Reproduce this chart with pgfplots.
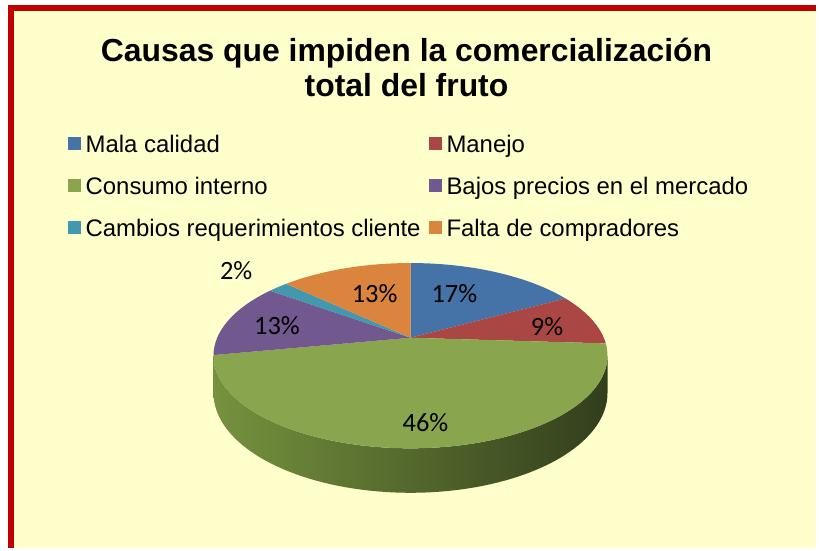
\documentclass[border=0pt]{standalone}
\usepackage{fontspec}
\setmainfont{Liberation Sans}
\newfontfamily\calib{Carlito}
\usepackage{pgfplots}
\usepackage{pgfplotstable}
\pgfplotsset{compat=1.18}

\definecolor{cBlue}{RGB}{69,114,167}
\definecolor{cRed}{RGB}{170,70,67}
\definecolor{cGreen}{RGB}{137,165,78}
\definecolor{cPurple}{RGB}{113,88,143}
\definecolor{cCyan}{RGB}{65,152,175}
\definecolor{cOrange}{RGB}{219,132,61}
\definecolor{sideL}{RGB}{118,146,62}
\definecolor{sideM}{RGB}{88,112,47}
\definecolor{sideR}{RGB}{50,62,28}
\definecolor{bgY}{RGB}{255,255,204}
\definecolor{frameR}{RGB}{192,0,0}

\pgfplotstableread{
id value
1 17
2 9
3 46
4 13
5 2
6 13
}\piedata

\pgfplotstablegetelem{0}{value}\of\piedata \let\vA\pgfplotsretval
\pgfplotstablegetelem{1}{value}\of\piedata \let\vB\pgfplotsretval
\pgfplotstablegetelem{2}{value}\of\piedata \let\vC\pgfplotsretval
\pgfplotstablegetelem{3}{value}\of\piedata \let\vD\pgfplotsretval
\pgfplotstablegetelem{4}{value}\of\piedata \let\vE\pgfplotsretval
\pgfplotstablegetelem{5}{value}\of\piedata \let\vF\pgfplotsretval
\pgfmathsetmacro\aA{0}
\pgfmathsetmacro\aB{\aA+3.6*\vA}
\pgfmathsetmacro\aC{\aB+3.6*\vB}
\pgfmathsetmacro\aD{\aC+3.6*\vC}
\pgfmathsetmacro\aE{\aD+3.6*\vD}
\pgfmathsetmacro\aF{\aE+3.6*\vE}
\pgfmathsetmacro\aG{\aF+3.6*\vF}

\begin{document}
\begin{tikzpicture}
\begin{axis}[
  scale only axis, width=819pt, height=550pt,
  xmin=0, xmax=819, ymin=0, ymax=550, y dir=reverse,
  hide axis, clip=false,
  declare function={
    px(\t)=412+194*sin(\t)/(1+0.1935*cos(\t));
    pyt(\t)=339-89.5*cos(\t)/(1+0.1935*cos(\t));
    pyb(\t)=339-89.5*cos(\t)/(1+0.1935*cos(\t))+36/(1+0.1935*cos(\t));
  },
  legend columns=2,
  legend cell align=left,
  legend image code/.code={\fill[#1] (0pt,-4pt) rectangle (13pt,9pt);},
  legend style={
    at={(axis cs:68,136)}, anchor=north west,
    draw=none, fill=none, inner sep=0pt, outer sep=0pt,
    font=\fontsize{24}{27}\selectfont,
    nodes={inner sep=0pt, outer sep=0pt, text height=17pt, text depth=5pt},
    row sep=20pt, column sep=0pt,
    /tikz/every odd column/.append style={column sep=5pt},
    /tikz/every even column/.append style={column sep=8pt},
  },
]
% background and frame
\fill[white] (axis cs:0,0) rectangle (axis cs:819,550);
\fill[bgY] (axis cs:11,8) rectangle (axis cs:819,550);
\draw[frameR, line width=6pt] (axis cs:11,550) -- (axis cs:11,8) -- (axis cs:819,8);

% side of the pie
\addplot[forget plot, draw=none, left color=sideL, middle color=sideM, right color=sideR,
  domain=0:2, samples=161]
  ({ifthenelse(x<=1, px(101.2+157.6*x), px(258.8-157.6*(x-1)))},
   {ifthenelse(x<=1, pyt(101.2+157.6*x), pyb(258.8-157.6*(x-1)))}) -- cycle;

% slices
\addplot[fill=cBlue, draw=none, domain=\aA:\aB, samples=40]
  ({px(x)},{pyt(x)}) -- (axis cs:412,339) -- cycle;
\addplot[fill=cRed, draw=none, domain=\aB:\aC, samples=40]
  ({px(x)},{pyt(x)}) -- (axis cs:412,339) -- cycle;
\addplot[fill=cGreen, draw=none, domain=\aC:\aD, samples=80]
  ({px(x)},{pyt(x)}) -- (axis cs:412,339) -- cycle;
\addplot[fill=cPurple, draw=none, domain=\aD:\aE, samples=40]
  ({px(x)},{pyt(x)}) -- (axis cs:412,339) -- cycle;
\addplot[fill=cCyan, draw=none, domain=\aE:\aF, samples=10]
  ({px(x)},{pyt(x)}) -- (axis cs:412,339) -- cycle;
\addplot[fill=cOrange, draw=none, domain=\aF:\aG, samples=40]
  ({px(x)},{pyt(x)}) -- (axis cs:412,339) -- cycle;

\legend{Mala calidad, Manejo, Consumo interno, Bajos precios en el mercado, Cambios requerimientos cliente, Falta de compradores}

% title
\node[anchor=base, font=\fontsize{32}{36}\bfseries\selectfont, inner sep=0pt] at (axis cs:408,62) {Causas que impiden la comercialización};
\node[anchor=base, font=\fontsize{32}{36}\bfseries\selectfont, inner sep=0pt] at (axis cs:408,97) {total del fruto};

% percentage labels
\begin{scope}[every node/.style={anchor=base, inner sep=0pt, font=\calib\fontsize{26.5}{30}\selectfont}]
\node at (axis cs:456,304) {17\%};
\node at (axis cs:549,337) {9\%};
\node at (axis cs:427,433) {46\%};
\node at (axis cs:278,336) {13\%};
\node at (axis cs:237,281) {2\%};
\node at (axis cs:376,304) {13\%};
\end{scope}
\end{axis}
\end{tikzpicture}
\end{document}
